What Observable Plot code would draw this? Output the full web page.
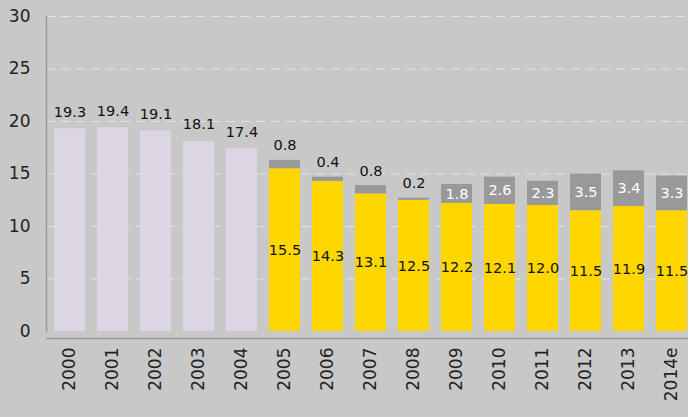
<!DOCTYPE html>
<html>
<head>
<meta charset="utf-8">
<script src="https://cdn.jsdelivr.net/npm/d3@7"></script>
<script src="https://cdn.jsdelivr.net/npm/@observablehq/plot@0.6"></script>
<style>
  html, body { margin: 0; padding: 0; background: #c8c8c8; overflow: hidden; }
  svg { display: block; }
</style>
</head>
<body>
<div id="chart"></div>
<script>
const years = ["2000","2001","2002","2003","2004","2005","2006","2007","2008","2009","2010","2011","2012","2013","2014e"];
const earlyYears = ["2000","2001","2002","2003","2004"];
const earlyValues = [19.3, 19.4, 19.1, 18.1, 17.4];
const lateYears = ["2005","2006","2007","2008","2009","2010","2011","2012","2013","2014e"];
const lateBase = [15.5, 14.3, 13.1, 12.5, 12.2, 12.1, 12.0, 11.5, 11.9, 11.5];
const lateExtra = [0.8, 0.4, 0.8, 0.2, 1.8, 2.6, 2.3, 3.5, 3.4, 3.3];
const yTicks = [0, 5, 10, 15, 20, 25, 30];

const early = earlyYears.map((year, i) => ({year, value: earlyValues[i]}));
const late = lateYears.map((year, i) => ({year, base: lateBase[i], extra: lateExtra[i], top: lateBase[i] + lateExtra[i]}));
const extraAbove = late.filter(d => d.extra < 1);
const extraInside = late.filter(d => d.extra >= 1);

const font = "DejaVu Sans, Verdana, sans-serif";

const chart = Plot.plot({
  width: 688,
  height: 417,
  marginTop: 16,
  marginBottom: 86,
  marginLeft: 46,
  marginRight: 0,
  style: {background: "#c8c8c8", fontFamily: font, color: "#222", overflow: "hidden"},
  x: {domain: years, range: [46, 694], paddingInner: 0.28, paddingOuter: 0.14, label: null},
  y: {domain: [0, 30], label: null},
  marks: [
    Plot.ruleY(yTicks.filter(d => d > 0), {stroke: "#e4e4e4", strokeWidth: 1.2, strokeDasharray: "9,6"}),
    Plot.barY(early, {x: "year", y: "value", fill: "#dcd6e4"}),
    Plot.barY(late, {x: "year", y1: 0, y2: "base", fill: "#ffd600"}),
    Plot.barY(late, {x: "year", y1: "base", y2: "top", fill: "#999999"}),
    Plot.text(early, {x: "year", y: "value", text: d => d.value.toFixed(1), lineAnchor: "bottom", dy: -12, fontSize: 14.5, fill: "#111"}),
    Plot.text(late, {x: "year", y: d => d.base / 2, text: d => d.base.toFixed(1), fontSize: 14.5, fill: "#111"}),
    Plot.text(extraAbove, {x: "year", y: "top", text: d => d.extra.toFixed(1), lineAnchor: "bottom", dy: -10, fontSize: 14.5, fill: "#111"}),
    Plot.text(extraInside, {x: "year", y: d => d.base + d.extra / 2, text: d => d.extra.toFixed(1), fontSize: 14.5, fill: "#ffffff"}),
    Plot.frame({anchor: "left", stroke: "#9a9a9a", strokeWidth: 1.5}),
    Plot.ruleY([0], {dy: 7, stroke: "#9a9a9a", strokeWidth: 1.5}),
    Plot.axisY({ticks: yTicks, tickSize: 0, tickPadding: 16, fontSize: 17, label: null, fill: "#222"}),
    Plot.axisX({tickSize: 0, tickPadding: 16, tickRotate: -90, fontSize: 17, label: null, fill: "#222"})
  ]
});
document.getElementById("chart").appendChild(chart);
</script>
</body>
</html>
